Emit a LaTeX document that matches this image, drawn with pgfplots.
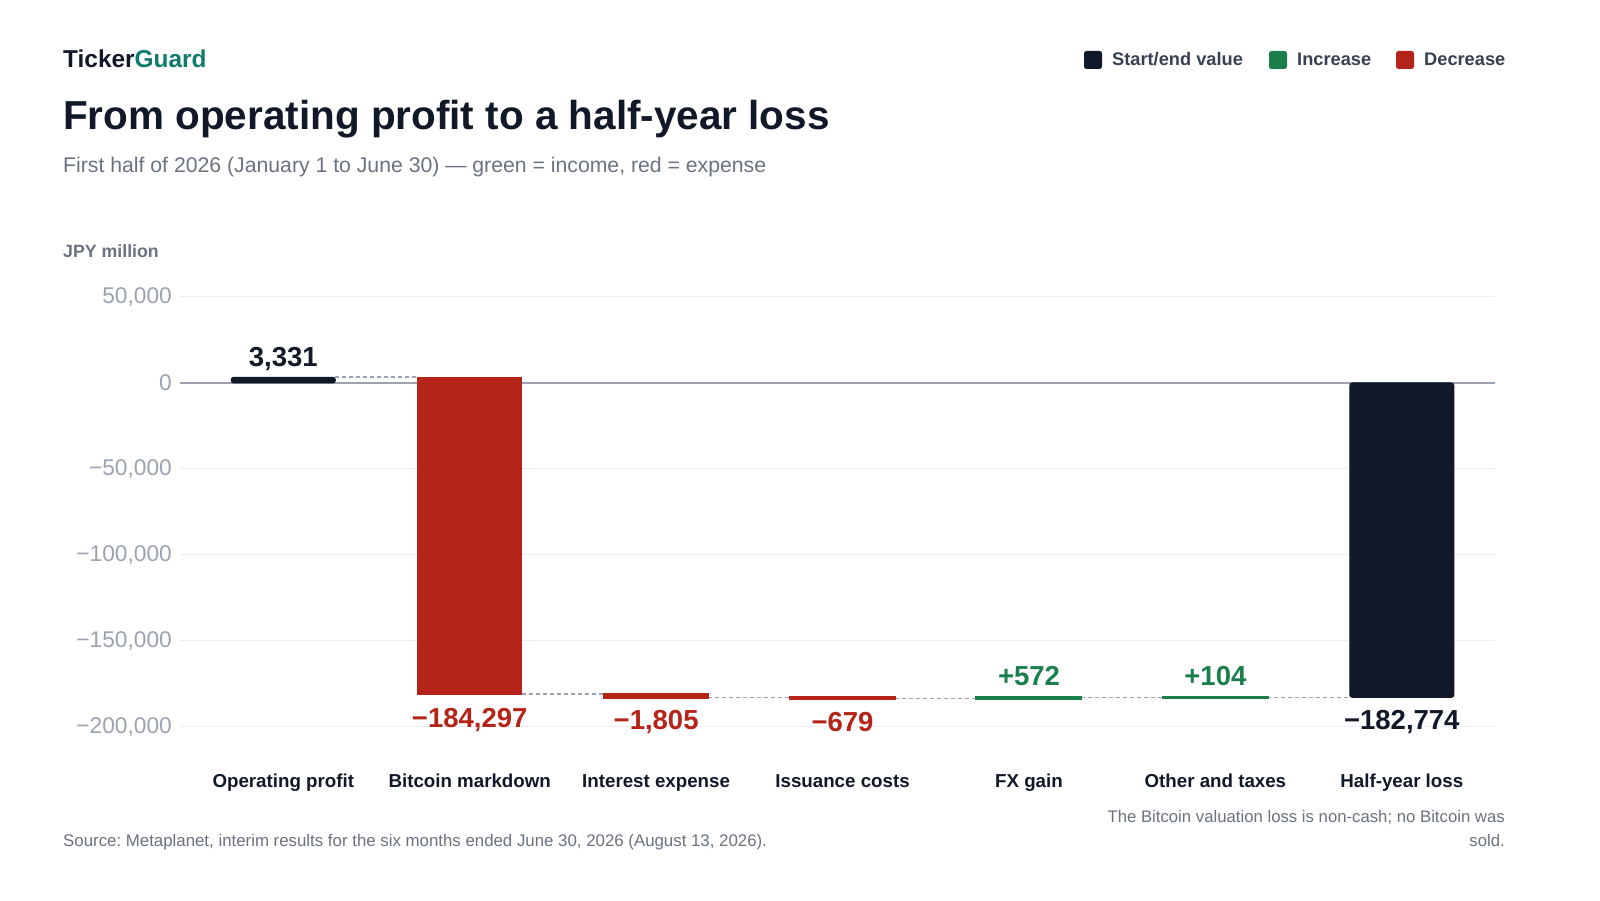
\documentclass[border=0pt]{standalone}
\usepackage{fontspec}
\setmainfont{Liberation Sans}
\usepackage{pgfplots}
\pgfplotsset{compat=1.18}
\frenchspacing
\definecolor{ink}{HTML}{111827}
\definecolor{upg}{HTML}{1B7F4C}
\definecolor{downr}{HTML}{B42419}
\definecolor{teal}{HTML}{0F7B6C}
\definecolor{subg}{HTML}{6B7280}
\definecolor{tickg}{HTML}{9CA3AF}
\definecolor{gridc}{HTML}{ECEEF1}
\definecolor{legt}{HTML}{374151}
\newcommand\fs[1]{\fontsize{#1}{#1}\selectfont}
\begin{document}
\begin{tikzpicture}[x=1bp,y=1bp]
\useasboundingbox (0,0) rectangle (1600,900);
\fill[white] (0,0) rectangle (1600,900);
% header
\node[anchor=base west, inner sep=0, font=\bfseries\fs{24.5}, text=ink] at (63,832) {Ticker\textcolor{teal}{Guard}};
\node[anchor=base west, inner sep=0, font=\bfseries\fs{40.6}, text=ink] at (63,770) {From operating profit to a half-year loss};
\node[anchor=base west, inner sep=0, font=\fs{21.3}, text=subg] at (63,727) {First half of 2026 (January 1 to June 30) — green = income, red = expense};
\node[anchor=base west, inner sep=0, font=\bfseries\fs{17.8}, text=subg] at (63,642) {JPY million};
% legend
\fill[ink, rounded corners=2.5bp] (1084,831) rectangle (1102,849);
\node[anchor=base west, inner sep=0, font=\bfseries\fs{18.3}, text=legt] at (1112,834) {Start/end value};
\fill[upg, rounded corners=2.5bp] (1269,831) rectangle (1287,849);
\node[anchor=base west, inner sep=0, font=\bfseries\fs{18.3}, text=legt] at (1297,834) {Increase};
\fill[downr, rounded corners=2.5bp] (1396,831) rectangle (1414,849);
\node[anchor=base west, inner sep=0, font=\bfseries\fs{18.3}, text=legt] at (1424,834) {Decrease};
% footer
\node[anchor=base west, inner sep=0, font=\fs{16.9}, text=subg] at (63,54) {Source: Metaplanet, interim results for the six months ended June 30, 2026 (August 13, 2026).};
\node[anchor=base east, inner sep=0, font=\fs{16.8}, text=subg] at (1505,78) {The Bitcoin valuation loss is non-cash; no Bitcoin was};
\node[anchor=base east, inner sep=0, font=\fs{16.8}, text=subg] at (1505,54) {sold.};
\begin{axis}[at={(180bp,173bp)}, anchor=south west, scale only axis,
  width=1315bp, height=430bp,
  xmin=-0.554, xmax=6.5, ymin=-200000, ymax=50000, clip=false,
  scaled y ticks=false,
  axis line style={draw=none}, major tick length=0,
  ytick={-200000,-150000,-100000,-50000,0,50000},
  yticklabels={{−200,000},{−150,000},{−100,000},{−50,000},0,{50,000}},
  yticklabel style={font=\fs{22.8}, text=tickg, anchor=east, inner sep=0pt, xshift=-8bp},
  ymajorgrids, grid style={gridc, line width=1bp},
  xtick={0,1,2,3,4,5,6},
  xticklabels={Operating profit, Bitcoin markdown, Interest expense, Issuance costs, FX gain, Other and taxes, Half-year loss},
  xticklabel style={font=\bfseries\fs{18.8}, text=ink, anchor=base, inner sep=0pt, yshift=-61bp},
]
% zero line
\addplot[tickg, line width=1.5bp] coordinates {(-0.554,0) (6.5,0)};
% connectors
\addplot[tickg, line width=1.6bp, dash pattern=on 4bp off 3bp] coordinates {(0.279,3331) (0.721,3331)};
\addplot[tickg, line width=1.6bp, dash pattern=on 4bp off 3bp] coordinates {(1.279,-180966) (1.721,-180966)};
\addplot[tickg, line width=1.6bp, dash pattern=on 4bp off 3bp] coordinates {(2.279,-182771) (2.721,-182771)};
\addplot[tickg, line width=1.6bp, dash pattern=on 4bp off 3bp] coordinates {(3.279,-183450) (3.721,-183450)};
\addplot[tickg, line width=1.6bp, dash pattern=on 4bp off 3bp] coordinates {(4.279,-182878) (4.721,-182878)};
\addplot[tickg, line width=1.6bp, dash pattern=on 4bp off 3bp] coordinates {(5.279,-182774) (5.721,-182774)};
% bars
\addplot[fill=ink, draw=ink, line width=1bp, rounded corners=2.5bp] coordinates {(-0.279,0) (0.279,0) (0.279,3331) (-0.279,3331)} --cycle;
\addplot[fill=downr, draw=downr, line width=1bp] coordinates {(0.721,3331) (1.279,3331) (1.279,-180966) (0.721,-180966)} --cycle;
\addplot[fill=downr, draw=downr, line width=2.5bp] coordinates {(1.721,-180966) (2.279,-180966) (2.279,-182771) (1.721,-182771)} --cycle;
\addplot[fill=downr, draw=downr, line width=3bp] coordinates {(2.721,-182771) (3.279,-182771) (3.279,-183450) (2.721,-183450)} --cycle;
\addplot[fill=upg, draw=upg, line width=3bp] coordinates {(3.721,-183450) (4.279,-183450) (4.279,-182878) (3.721,-182878)} --cycle;
\addplot[fill=upg, draw=upg, line width=3bp] coordinates {(4.721,-182878) (5.279,-182878) (5.279,-182774) (4.721,-182774)} --cycle;
\addplot[fill=ink, draw=ink, line width=1bp, rounded corners=2.5bp] coordinates {(5.721,0) (6.279,0) (6.279,-182774) (5.721,-182774)} --cycle;
% value labels
\node[anchor=base, inner sep=0, font=\bfseries\fs{27.6}, text=ink, yshift=11bp] at (axis cs:0,3331) {3,331};
\node[anchor=base, inner sep=0, font=\bfseries\fs{27.6}, text=downr, yshift=-33bp] at (axis cs:1,-180966) {−184,297};
\node[anchor=base, inner sep=0, font=\bfseries\fs{27.6}, text=downr, yshift=-32bp] at (axis cs:2,-182771) {−1,805};
\node[anchor=base, inner sep=0, font=\bfseries\fs{27.6}, text=downr, yshift=-33bp] at (axis cs:3,-183450) {−679};
\node[anchor=base, inner sep=0, font=\bfseries\fs{27.6}, text=upg, yshift=12bp] at (axis cs:4,-182878) {+572};
\node[anchor=base, inner sep=0, font=\bfseries\fs{27.6}, text=upg, yshift=12bp] at (axis cs:5,-182774) {+104};
\node[anchor=base, inner sep=0, font=\bfseries\fs{27.6}, text=ink, yshift=-32bp] at (axis cs:6,-182774) {−182,774};
\end{axis}
\end{tikzpicture}
\end{document}
